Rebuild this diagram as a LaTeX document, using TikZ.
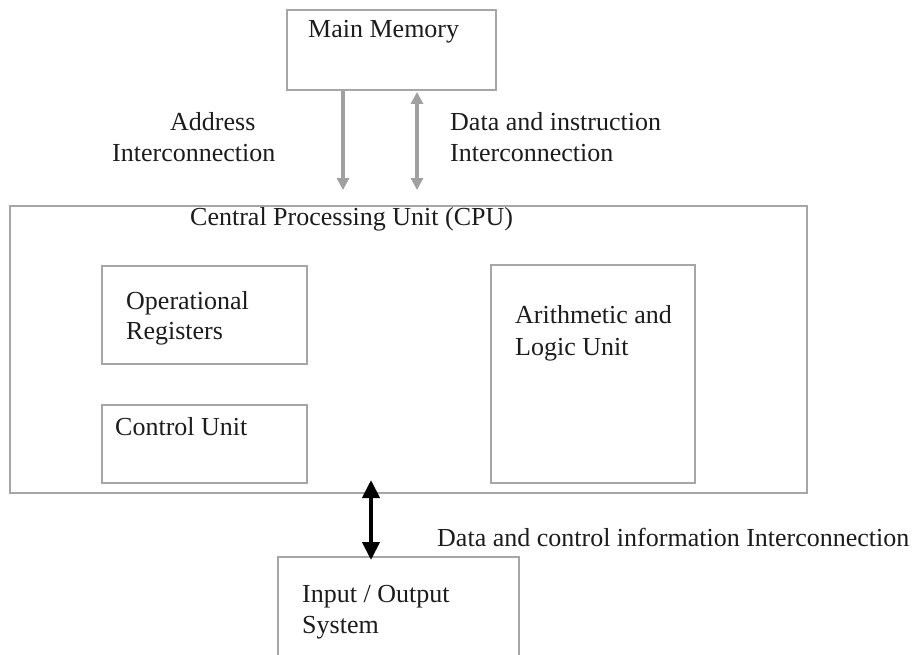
\documentclass[tikz,border=0pt]{standalone}
\usepackage{fontspec}
\setmainfont{Liberation Serif}
\usetikzlibrary{arrows.meta}
\definecolor{frame}{HTML}{A6A6A6}
\definecolor{link}{HTML}{A0A0A0}
\definecolor{ink}{HTML}{1C1C1C}
\tikzset{
  unitbox/.style={draw=frame, line width=2.6pt, fill=none, inner sep=0pt, rectangle},
  lbl/.style={anchor=base west, inner sep=0pt, text=ink, font=\fontsize{26}{31}\selectfont},
  grayarrow/.style={draw=link, line width=4pt, -{Triangle[width=12pt,length=12pt]}},
  grayboth/.style={draw=link, line width=4pt, {Triangle[width=12pt,length=12pt]}-{Triangle[width=12pt,length=12pt]}},
  blackboth/.style={draw=black, line width=4pt, {Triangle[width=17pt,length=18pt]}-{Triangle[width=17pt,length=18pt]}}
}
\begin{document}
\begin{tikzpicture}[x=1pt, y=-1pt]
  \useasboundingbox (0,0) rectangle (917,655);
  \clip (0,0) rectangle (917,655);

  % boxes
  \node[unitbox, minimum width=209pt, minimum height=80pt] (mem) at (391.5,50) {};
  \node[unitbox, minimum width=797pt, minimum height=287pt] (cpu) at (408.5,349.5) {};
  \node[unitbox, minimum width=205pt, minimum height=98pt] (reg) at (204.5,315) {};
  \node[unitbox, minimum width=205pt, minimum height=78pt] (cu) at (204.5,444) {};
  \node[unitbox, minimum width=204pt, minimum height=218pt] (alu) at (593,374) {};
  \node[unitbox, minimum width=241pt, minimum height=140pt] (io) at (398.5,627) {};

  % box titles
  \node[lbl] (memt) at (308,38) {Main Memory};
  \node[lbl] (cput) at (190,225) {Central Processing Unit (CPU)};
  \node[lbl] (regt1) at (126,309) {Operational};
  \node[lbl] (regt2) at (126,339) {Registers};
  \node[lbl] (cut) at (115,435) {Control Unit};
  \node[lbl] (alut1) at (515,323) {Arithmetic and};
  \node[lbl] (alut2) at (515,355) {Logic Unit};
  \node[lbl] (iot1) at (302,602) {Input / Output};
  \node[lbl] (iot2) at (302,633) {System};

  % connector labels
  \node[lbl] (addr1) at (170,131) {Address};
  \node[lbl] (addr2) at (112,162) {Interconnection};
  \node[lbl] (data1) at (450,131) {Data and instruction};
  \node[lbl] (data2) at (450,162) {Interconnection};
  \node[lbl] (ctrl) at (437,546) {Data and control information Interconnection};

  % connector end points
  \coordinate (addrEnd) at (343,190);
  \coordinate (dataTop) at (417,92);
  \coordinate (dataEnd) at (417,190);
  \coordinate (ioTop) at (371,480);
  \coordinate (ioEnd) at (371,560);

  % connectors
  \draw[grayarrow] (mem.south -| addrEnd) -- (addrEnd);
  \draw[grayboth] (dataTop) -- (dataEnd);
  \draw[blackboth] (ioTop) -- (ioEnd);
\end{tikzpicture}
\end{document}
